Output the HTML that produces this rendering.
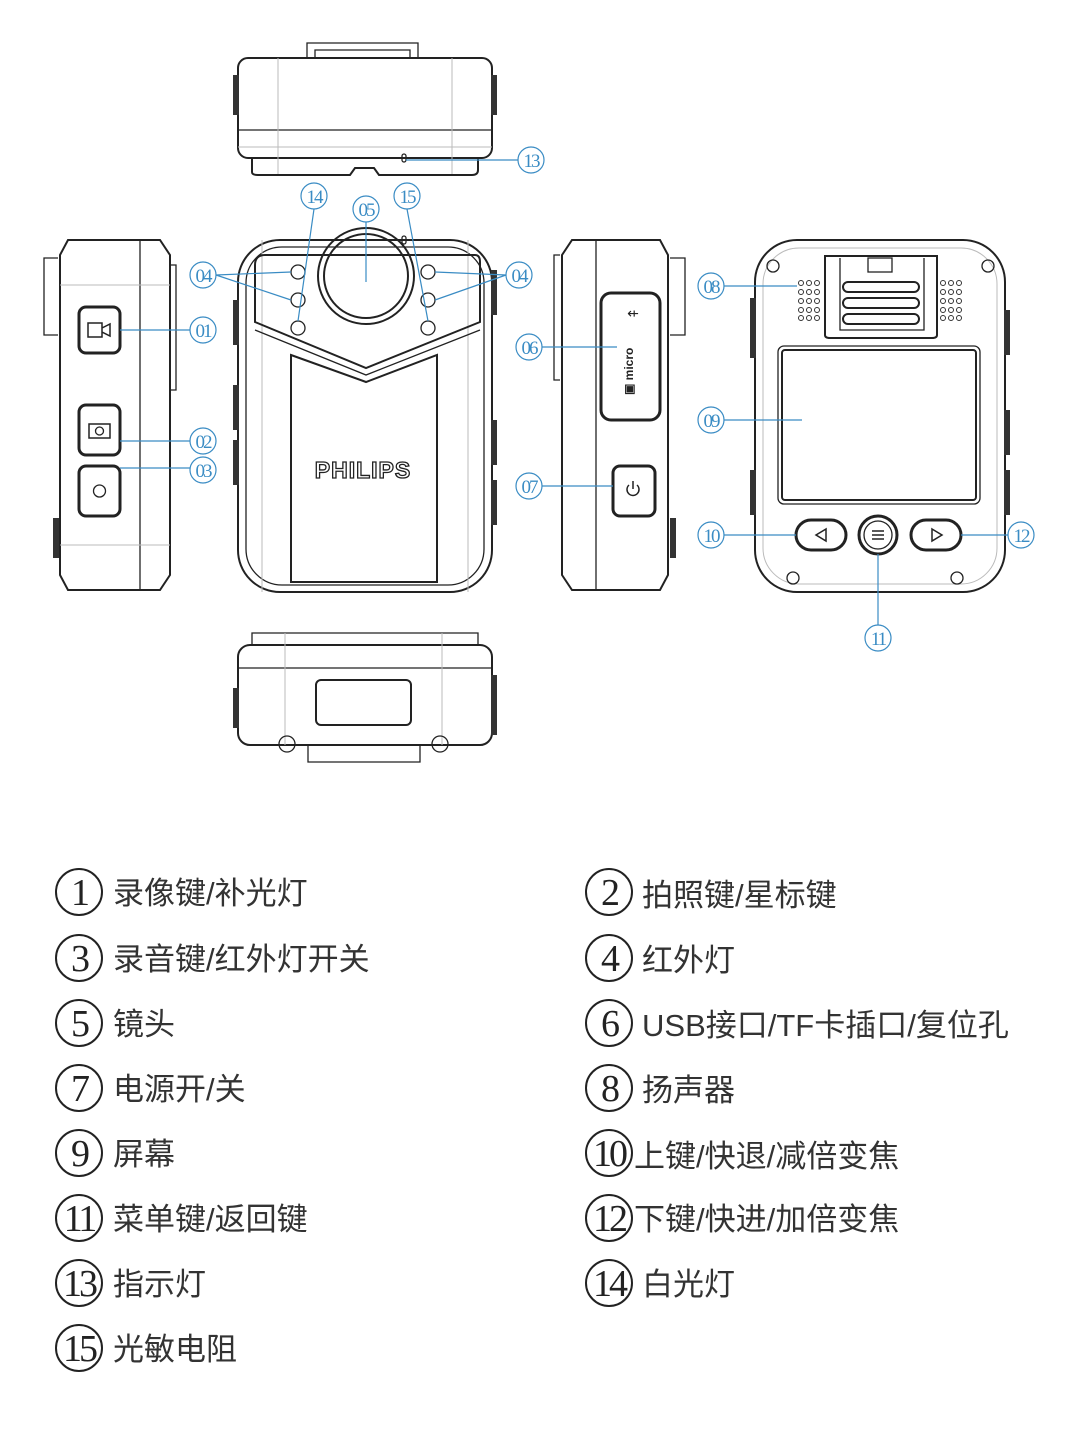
<!DOCTYPE html>
<html><head><meta charset="utf-8"><style>
html,body{margin:0;padding:0;background:#fff;}
svg{display:block}
.b{fill:none;stroke:#222;stroke-width:2}
.t{fill:none;stroke:#222;stroke-width:1.3}
.g{fill:none;stroke:#bbb;stroke-width:1}
.bl{fill:none;stroke:#3a8cc4;stroke-width:1.2}
.lb{font-family:"Liberation Serif",serif;font-size:19px;fill:#3a8cc4;letter-spacing:-2px}
.lg{font-family:"Liberation Sans","Noto Sans CJK SC",sans-serif;font-size:31px;fill:#333}
.ln{font-family:"Liberation Serif",serif;font-size:38px;fill:#222;letter-spacing:-3px}
.bt{fill:#fff;stroke:#222;stroke-width:3}
</style></head><body>
<svg width="1080" height="1452" viewBox="0 0 1080 1452" xmlns="http://www.w3.org/2000/svg">
<!-- TOP VIEW -->
<path class="t" d="M307,58 V43 H418 V58"/>
<path class="t" d="M315,58 V50 H410 V58"/>
<rect class="b" x="238" y="58" width="254" height="100" rx="10"/>
<line class="t" x1="238" y1="130" x2="492" y2="130"/>
<line class="g" x1="238" y1="147" x2="492" y2="147"/>
<line class="g" x1="278" y1="58" x2="278" y2="175"/><line class="g" x1="452" y1="58" x2="452" y2="175"/>
<path class="b" d="M252,158 V172 Q252,175 258,175 H350 L355,168 H374 L379,175 H472 Q478,175 478,170 V158"/>
<rect x="233" y="75" width="6" height="40" fill="#333"/><rect x="491" y="75" width="6" height="40" fill="#333"/>
<rect class="t" x="402" y="154" width="4" height="8" rx="2"/>
<!-- LEFT SIDE VIEW -->
<path class="t" d="M58,258 H44 V335 H58"/>
<path class="b" d="M68,240 H160 L170,255 V575 L160,590 H68 L60,575 V255 Z"/>
<line class="t" x1="140" y1="240" x2="140" y2="590"/>
<line class="g" x1="60" y1="285" x2="170" y2="285"/><line class="g" x1="60" y1="545" x2="170" y2="545"/>
<path class="t" d="M170,265 H176 V390 H170"/>
<rect x="53" y="518" width="6" height="40" fill="#333"/>
<rect class="bt" x="79" y="307" width="41" height="46" rx="7"/>
<rect class="bt" x="79" y="405" width="41" height="50" rx="7"/>
<rect class="bt" x="79" y="466" width="41" height="50" rx="7"/>
<path d="M88,323 h14 v14 h-14z M102,328 l8,-4 v12 l-8,-4z" fill="none" stroke="#222" stroke-width="1.5"/>
<rect x="89" y="424" width="21" height="14" fill="none" stroke="#222" stroke-width="1.5"/><circle cx="99.5" cy="431" r="4" class="t"/>
<circle cx="99.5" cy="491" r="6" class="t"/>
<!-- FRONT VIEW -->
<rect class="b" x="238" y="240" width="254" height="352" rx="42"/>
<rect class="t" x="246" y="247" width="238" height="338" rx="36"/>
<line class="g" x1="262" y1="240" x2="262" y2="592"/><line class="g" x1="468" y1="240" x2="468" y2="592"/>
<path class="b" d="M265,255 H475 Q480,255 480,262 V322 L366,368 L255,322 V265 Q255,255 265,255 Z"/>
<path class="t" d="M255,330 L366,375 L480,330"/>
<circle cx="366" cy="276" r="48" class="b" fill="#fff"/><circle cx="366" cy="276" r="42" class="b"/>
<g class="t" stroke-width="1.8"><circle cx="298" cy="272" r="7"/><circle cx="298" cy="300" r="7"/><circle cx="298" cy="328" r="7"/><circle cx="428" cy="272" r="7"/><circle cx="428" cy="300" r="7"/><circle cx="428" cy="328" r="7"/></g>
<path class="b" d="M291,355 L366,382 L437,355 V582 H291 Z"/>
<text x="363" y="478" text-anchor="middle" font-family="Liberation Sans,sans-serif" font-weight="bold" font-size="23" fill="#fff" stroke="#222" stroke-width="1.3" letter-spacing="1">PHILIPS</text>
<rect x="233" y="300" width="6" height="45" fill="#333"/><rect x="233" y="385" width="6" height="45" fill="#333"/><rect x="233" y="440" width="6" height="45" fill="#333"/>
<rect x="491" y="270" width="6" height="45" fill="#333"/><rect x="491" y="420" width="6" height="45" fill="#333"/><rect x="491" y="480" width="6" height="45" fill="#333"/>
<rect class="t" x="402" y="236" width="4" height="8" rx="2"/>
<!-- RIGHT SIDE VIEW -->
<path class="t" d="M560,255 H554 V380 H560"/>
<path class="b" d="M572,240 H660 L668,255 V575 L660,590 H572 L562,575 V255 Z"/>
<line class="t" x1="596" y1="240" x2="596" y2="590"/>
<path class="t" d="M670,258 H685 V335 H670"/>
<rect x="670" y="518" width="6" height="40" fill="#333"/>
<rect class="bt" x="601" y="293" width="59" height="127" rx="10"/>
<text x="633" y="395" transform="rotate(-90 633 395)" font-family="Liberation Sans,sans-serif" font-weight="bold" font-size="12" fill="#222">▣ micro</text>
<text x="633" y="318" text-anchor="middle" font-family="DejaVu Sans,sans-serif" font-size="14" fill="#222">⇷</text>
<rect class="bt" x="613" y="466" width="42" height="50" rx="7"/>
<path d="M629,485 a6,6 0 1,0 8,0 M633,481 v8" fill="none" stroke="#222" stroke-width="1.5"/>
<!-- BACK VIEW -->
<rect class="b" x="755" y="240" width="250" height="352" rx="42"/>
<rect class="g" x="763" y="248" width="234" height="336" rx="36"/>
<rect x="750" y="298" width="6" height="60" fill="#333"/><rect x="750" y="470" width="6" height="45" fill="#333"/>
<rect x="1004" y="310" width="6" height="45" fill="#333"/><rect x="1004" y="410" width="6" height="45" fill="#333"/><rect x="1004" y="470" width="6" height="45" fill="#333"/>
<path class="b" d="M825,256 H937 V335 Q937,338 932,338 H830 Q825,338 825,335 Z"/>
<path class="t" d="M840,258 V330 H924 V258"/>
<rect class="t" x="868" y="258" width="24" height="14"/>
<g class="b" stroke-width="2.5"><rect x="843" y="282" width="76" height="10" rx="5"/><rect x="843" y="298" width="76" height="10" rx="5"/><rect x="843" y="314" width="76" height="10" rx="5"/></g>
<g class="t" stroke-width="1">
<circle cx="773" cy="266" r="6"/><circle cx="988" cy="266" r="6"/><circle cx="793" cy="578" r="6"/><circle cx="957" cy="578" r="6"/>
</g>
<g fill="none" stroke="#333" stroke-width="1">
<circle cx="801" cy="283" r="2.5"/><circle cx="809" cy="283" r="2.5"/><circle cx="817" cy="283" r="2.5"/>
<circle cx="801" cy="292" r="2.5"/><circle cx="809" cy="292" r="2.5"/><circle cx="817" cy="292" r="2.5"/>
<circle cx="801" cy="301" r="2.5"/><circle cx="809" cy="301" r="2.5"/><circle cx="817" cy="301" r="2.5"/>
<circle cx="801" cy="310" r="2.5"/><circle cx="809" cy="310" r="2.5"/><circle cx="817" cy="310" r="2.5"/>
<circle cx="801" cy="318" r="2.5"/><circle cx="809" cy="318" r="2.5"/><circle cx="817" cy="318" r="2.5"/>
<circle cx="943" cy="283" r="2.5"/><circle cx="951" cy="283" r="2.5"/><circle cx="959" cy="283" r="2.5"/>
<circle cx="943" cy="292" r="2.5"/><circle cx="951" cy="292" r="2.5"/><circle cx="959" cy="292" r="2.5"/>
<circle cx="943" cy="301" r="2.5"/><circle cx="951" cy="301" r="2.5"/><circle cx="959" cy="301" r="2.5"/>
<circle cx="943" cy="310" r="2.5"/><circle cx="951" cy="310" r="2.5"/><circle cx="959" cy="310" r="2.5"/>
<circle cx="943" cy="318" r="2.5"/><circle cx="951" cy="318" r="2.5"/><circle cx="959" cy="318" r="2.5"/>
</g>
<rect class="t" x="778" y="346" width="202" height="158" rx="6"/>
<rect class="b" x="782" y="350" width="194" height="150" rx="3"/>
<rect class="bt" x="796" y="520" width="50" height="30" rx="15"/>
<rect class="bt" x="911" y="520" width="50" height="30" rx="15"/>
<circle cx="878" cy="535" r="19" class="bt"/><circle cx="878" cy="535" r="14" class="t"/>
<path d="M826,529 l-10,6 l10,6z M932,529 l10,6 l-10,6z" fill="none" stroke="#222" stroke-width="1.5"/>
<path d="M872,531 h12 M872,535 h12 M872,539 h12" stroke="#222" stroke-width="1.5"/>
<!-- BOTTOM VIEW -->
<path class="t" d="M252,645 V633 H478 V645"/>
<rect class="b" x="238" y="645" width="254" height="100" rx="12"/>
<line class="t" x1="238" y1="668" x2="492" y2="668"/>
<line class="g" x1="285" y1="633" x2="285" y2="745"/><line class="g" x1="442" y1="633" x2="442" y2="745"/>
<rect class="b" x="316" y="680" width="95" height="45" rx="5"/>
<path class="t" d="M308,745 V762 H420 V745"/>
<rect x="233" y="688" width="6" height="40" fill="#333"/><rect x="491" y="675" width="6" height="60" fill="#333"/>
<circle cx="287" cy="744" r="8" class="t"/><circle cx="440" cy="744" r="8" class="t"/>
<!-- CALLOUTS -->
<g class="bl">
<line x1="406" y1="160" x2="518" y2="160"/><circle cx="531" cy="160" r="13"/>
<circle cx="314" cy="196" r="13"/><line x1="314" y1="209" x2="298" y2="321"/>
<circle cx="407" cy="196" r="13"/><line x1="407" y1="209" x2="428" y2="321"/>
<circle cx="366" cy="209" r="13"/><line x1="366" y1="222" x2="366" y2="282"/>
<circle cx="203" cy="275" r="13"/><line x1="216" y1="275" x2="291" y2="272"/><line x1="216" y1="275" x2="291" y2="300"/>
<circle cx="519" cy="275" r="13"/><line x1="506" y1="275" x2="435" y2="272"/><line x1="506" y1="275" x2="435" y2="300"/>
<circle cx="203" cy="330" r="13"/><line x1="120" y1="330" x2="190" y2="330"/>
<circle cx="203" cy="441" r="13"/><line x1="120" y1="441" x2="190" y2="441"/>
<circle cx="203" cy="470" r="13"/><line x1="120" y1="468" x2="190" y2="468"/>
<circle cx="529" cy="347" r="13"/><line x1="542" y1="347" x2="617" y2="347"/>
<circle cx="529" cy="486" r="13"/><line x1="542" y1="486" x2="613" y2="486"/>
<circle cx="711" cy="286" r="13"/><line x1="724" y1="286" x2="797" y2="286"/>
<circle cx="711" cy="420" r="13"/><line x1="724" y1="420" x2="802" y2="420"/>
<circle cx="711" cy="535" r="13"/><line x1="724" y1="535" x2="796" y2="535"/>
<circle cx="1021" cy="535" r="13"/><line x1="961" y1="535" x2="1008" y2="535"/>
<circle cx="878" cy="638" r="13"/><line x1="878" y1="554" x2="878" y2="625"/>
</g>
<g class="lb" text-anchor="middle">
<text x="531" y="167">13</text><text x="314" y="203">14</text><text x="407" y="203">15</text><text x="366" y="216">05</text>
<text x="203" y="282">04</text><text x="519" y="282">04</text><text x="203" y="337">01</text><text x="203" y="448">02</text><text x="203" y="477">03</text>
<text x="529" y="354">06</text><text x="529" y="493">07</text><text x="711" y="293">08</text><text x="711" y="427">09</text>
<text x="711" y="542">10</text><text x="1021" y="542">12</text><text x="878" y="645">11</text>
</g>
<!-- LEGEND -->
<g fill="none" stroke="#222" stroke-width="2">
<circle cx="79" cy="892" r="23"/><circle cx="609" cy="892" r="23"/>
<circle cx="79" cy="958" r="23"/><circle cx="609" cy="958" r="23"/>
<circle cx="79" cy="1023" r="23"/><circle cx="609" cy="1023" r="23"/>
<circle cx="79" cy="1088" r="23"/><circle cx="609" cy="1088" r="23"/>
<circle cx="79" cy="1153" r="23"/><circle cx="609" cy="1153" r="23"/>
<circle cx="79" cy="1218" r="23"/><circle cx="609" cy="1218" r="23"/>
<circle cx="79" cy="1283" r="23"/><circle cx="609" cy="1283" r="23"/>
<circle cx="79" cy="1348" r="23"/>
</g>
<g class="ln" text-anchor="middle">
<text x="79" y="905">1</text><text x="609" y="905">2</text>
<text x="79" y="971">3</text><text x="609" y="971">4</text>
<text x="79" y="1036">5</text><text x="609" y="1036">6</text>
<text x="79" y="1101">7</text><text x="609" y="1101">8</text>
<text x="79" y="1166">9</text><text x="609" y="1166">10</text>
<text x="79" y="1231">11</text><text x="609" y="1231">12</text>
<text x="79" y="1296">13</text><text x="609" y="1296">14</text>
<text x="79" y="1361">15</text>
</g>
<g class="lg">
<text x="113" y="904">录像键/补光灯</text><text x="642" y="906">拍照键/星标键</text>
<text x="113" y="970">录音键/红外灯开关</text><text x="642" y="971">红外灯</text>
<text x="113" y="1035">镜头</text><text x="642" y="1036">USB接口/TF卡插口/复位孔</text>
<text x="113" y="1100">电源开/关</text><text x="642" y="1101">扬声器</text>
<text x="113" y="1165">屏幕</text><text x="634" y="1167">上键/快退/减倍变焦</text>
<text x="113" y="1230">菜单键/返回键</text><text x="634" y="1230">下键/快进/加倍变焦</text>
<text x="113" y="1295">指示灯</text><text x="642" y="1295">白光灯</text>
<text x="113" y="1360">光敏电阻</text>
</g>
</svg>
</body></html>
